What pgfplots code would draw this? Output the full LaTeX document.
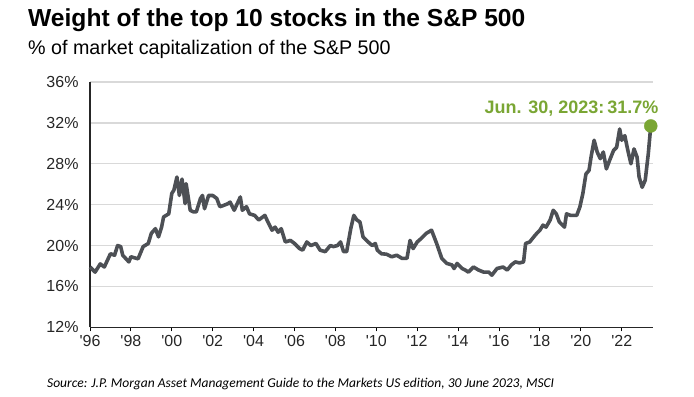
\documentclass[border=0pt]{standalone}
\usepackage{pgfplots}
\pgfplotsset{compat=1.18}
\usepackage{fontspec}
\setmainfont{Liberation Sans}[Ligatures=TeXOff]
\newfontfamily\srcfont{Carlito}
\definecolor{linegray}{RGB}{77,80,85}
\definecolor{jpgreen}{RGB}{122,166,52}
\definecolor{gridgray}{RGB}{217,217,217}
\begin{document}
\begin{tikzpicture}[x=1bp,y=1bp]
\useasboundingbox (0,0) rectangle (694,396);
\node[anchor=base west, inner sep=0pt, font=\fontsize{24.6bp}{28bp}\selectfont\bfseries] at (28,370) {Weight of the top 10 stocks in the S\&P 500};
\node[anchor=base west, inner sep=0pt, font=\fontsize{19.7bp}{23bp}\selectfont] at (28,342) {\% of market capitalization of the S\&P 500};
\begin{axis}[
  at={(90bp,68.7bp)}, anchor=south west,
  scale only axis, width=563bp, height=245.3bp,
  xmin=1996, xmax=2023.53, ymin=12, ymax=36,
  axis lines*=left, axis line style={-, line width=1.2bp, black!85},
  ytick={12,16,...,36},
  yticklabel={\pgfmathprintnumber{\tick}\%},
  xtick={1996,1998,...,2022},
  xticklabels={'96,'98,'00,'02,'04,'06,'08,'10,'12,'14,'16,'18,'20,'22},
  /pgf/number format/assume math mode=true,
  ymajorgrids, grid style={gridgray, line width=1.3bp},
  tick align=outside,
  xtick style={black, line width=1bp}, major tick length=4bp,
  ytick style={draw=none},
  tick label style={font=\fontsize{16bp}{19bp}\selectfont, text=black!85},
  y tick label style={xshift=-4bp},
  x tick label style={yshift=-1bp},
  clip=false,
]
\addplot[linegray, line width=3.6bp, line join=round] coordinates {
(1996.0,17.9)(1996.25,17.4)(1996.5,18.2)(1996.7,17.9)(1997.0,19.2)(1997.2,19.05)(1997.35,20.0)(1997.5,19.9)(1997.6,19.05)(1997.9,18.4)
(1998.0,18.9)(1998.35,18.7)(1998.6,19.9)(1998.85,20.2)(1999.0,21.2)(1999.2,21.65)(1999.35,20.85)(1999.5,21.8)(1999.6,22.8)(1999.85,23.1)
(2000.0,25.1)(2000.1,25.4)(2000.25,26.7)(2000.37,24.9)(2000.5,26.5)(2000.65,24.1)(2000.7,26.05)(2000.8,24.75)(2000.9,23.45)(2001.05,23.3)
(2001.2,23.3)(2001.4,24.6)(2001.5,24.9)(2001.6,23.6)(2001.8,24.9)(2002.0,24.9)(2002.2,24.6)(2002.35,23.8)(2002.5,23.9)(2002.75,24.1)
(2002.85,24.25)(2003.05,23.45)(2003.35,24.75)(2003.45,23.45)(2003.65,23.8)(2003.8,23.1)(2004.05,22.95)(2004.25,22.5)(2004.55,22.95)(2004.7,22.3)
(2004.9,21.5)(2005.05,21.8)(2005.2,21.3)(2005.35,21.65)(2005.55,20.35)(2005.8,20.5)(2006.0,20.2)(2006.25,19.7)(2006.4,19.55)(2006.6,20.35)
(2006.8,20.0)(2007.05,20.2)(2007.25,19.55)(2007.5,19.4)(2007.75,20.0)(2007.9,19.9)(2008.1,20.0)(2008.25,20.35)(2008.4,19.4)(2008.55,19.4)
(2008.75,21.65)(2008.9,22.95)(2009.05,22.5)(2009.2,22.3)(2009.35,20.85)(2009.6,20.35)(2009.8,20.0)(2009.95,20.2)(2010.05,19.55)(2010.25,19.2)
(2010.5,19.15)(2010.75,18.9)(2011.0,19.05)(2011.25,18.75)(2011.5,18.75)(2011.65,20.5)(2011.8,19.7)(2012.0,20.35)(2012.2,20.7)(2012.45,21.2)
(2012.7,21.5)(2012.95,20.2)(2013.2,18.75)(2013.45,18.25)(2013.7,18.1)(2013.8,17.75)(2013.95,18.25)(2014.2,17.75)(2014.35,17.6)(2014.5,17.4)
(2014.75,17.9)(2015.0,17.6)(2015.25,17.4)(2015.5,17.4)(2015.65,17.1)(2015.9,17.75)(2016.2,17.9)(2016.4,17.6)(2016.6,18.1)(2016.8,18.4)
(2017.0,18.3)(2017.2,18.4)(2017.3,20.2)(2017.5,20.35)(2017.7,20.85)(2017.85,21.2)(2018.0,21.5)(2018.15,22.0)(2018.3,21.8)(2018.5,22.5)
(2018.65,23.45)(2018.8,23.1)(2018.95,22.3)(2019.2,21.8)(2019.3,23.1)(2019.5,22.95)(2019.8,22.95)(2019.95,23.75)(2020.1,25.1)(2020.25,27.0)
(2020.4,27.35)(2020.5,28.65)(2020.65,30.3)(2020.8,29.15)(2020.95,28.5)(2021.1,29.15)(2021.25,27.5)(2021.4,28.3)(2021.6,29.3)(2021.75,29.6)
(2021.9,31.4)(2022.0,30.3)(2022.15,30.75)(2022.3,29.3)(2022.45,28.0)(2022.6,29.45)(2022.75,28.65)(2022.85,26.7)(2023.0,25.7)(2023.15,26.4)
(2023.3,29.0)(2023.42,31.7)
};
\addplot[only marks, mark=*, mark size=6.5bp, color=jpgreen] coordinates {(2023.42,31.7)};
\end{axis}
\node[anchor=base, inner sep=0pt, text=jpgreen, font=\fontsize{18bp}{21bp}\selectfont\bfseries] at (571.5,283) {Jun. 30, 2023:\,31.7\%};
\node[anchor=base west, inner sep=0pt, font=\srcfont\itshape\fontsize{13.5bp}{16bp}\selectfont] at (47,9) {Source: J.P. Morgan Asset Management Guide to the Markets US edition, 30 June 2023, MSCI};
\end{tikzpicture}
\end{document}
